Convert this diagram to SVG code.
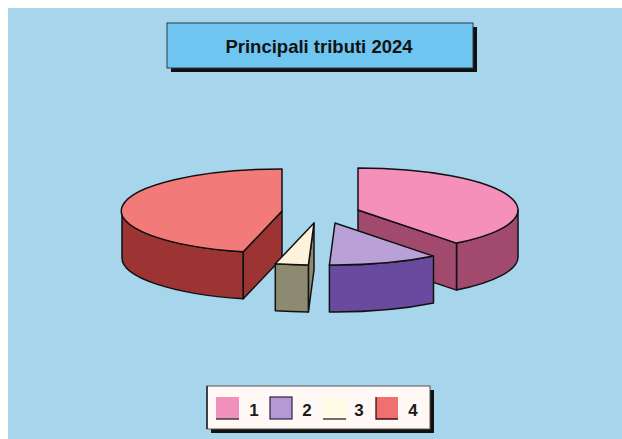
<svg xmlns="http://www.w3.org/2000/svg" width="622" height="439" viewBox="0 0 622 439">
<style>
.edge{stroke:#111;stroke-width:1.5;stroke-linejoin:round}
.t4{fill:#F27A78}.s4{fill:#9C3434}
.t1{fill:#F490BA}.s1{fill:#A24A6E}
.t2{fill:#B9A0D6}.s2{fill:#6A4A9E}
.t3{fill:#FFF2DC}.s3{fill:#8C8A70}
.lbl{font-family:"Liberation Sans",Arial,sans-serif;font-size:17px;font-weight:bold;fill:#1a1a1a;text-anchor:middle}
.title{font-family:"Liberation Sans",Arial,sans-serif;font-size:18.5px;font-weight:bold;fill:#111;text-anchor:middle}
</style>
<rect x="0" y="0" width="622" height="439" fill="#ffffff"/>
<rect x="8" y="8" width="614" height="431" fill="#A6D5EC"/>

<g id="title">
<rect x="171" y="27" width="306" height="45" fill="#111"/>
<rect x="167" y="23" width="306" height="45" fill="#6EC6F0" stroke="#2a3a48" stroke-width="1"/>
<text class="title" x="319" y="53">Principali tributi 2024</text>
</g>

<g id="connectors"></g>

<g id="slice4">
<path class="s4 edge" d="M243.3,251.8 A160,42 0 0 1 122,211 L122,258 A160,42 0 0 0 243.3,298.8 Z"/>
<path class="s4 edge" d="M282,211 L243.3,251.8 L243.3,298.8 L282,258 Z"/>
<path class="t4 edge" d="M282,211 L243.3,251.8 A160,42 0 0 1 282,169 Z"/>
</g>

<g id="slice1">
<path class="s1 edge" d="M518,210 A160,42 0 0 1 456.5,243.1 L456.5,290.1 A160,42 0 0 0 518,257 Z"/>
<path class="s1 edge" d="M358,210 L456.5,243.1 L456.5,290.1 L358,257 Z"/>
<path class="t1 edge" d="M358,210 L358,168 A160,42 0 0 1 456.5,243.1 Z"/>
</g>

<g id="slice3">
<path class="s3 edge" d="M314,223 L308.4,265 L308.4,312 L314,270 Z"/>
<path class="s3 edge" d="M308.4,265 A160,42 0 0 1 275.3,263.8 L275.3,310.8 A160,42 0 0 0 308.4,312 Z"/>
<path class="t3 edge" d="M314,223 L308.4,265 A160,42 0 0 1 275.3,263.8 Z"/>
</g>

<g id="slice2">
<path class="s2 edge" d="M433.5,256.1 A160,42 0 0 1 329.4,265 L329.4,312 A160,42 0 0 0 433.5,303.1 Z"/>
<path class="t2 edge" d="M335,223 L433.5,256.1 A160,42 0 0 1 329.4,265 Z"/>
</g>

<g id="legend">
<rect x="211" y="390" width="223" height="43" fill="#111"/>
<rect x="207" y="386" width="223" height="43" fill="#FFF8F4" stroke="#555" stroke-width="1"/>
<line x1="207" y1="386" x2="207" y2="429" stroke="#222" stroke-width="1.5"/>
<rect x="216" y="397" width="23" height="22" fill="#F290BC"/>
<line x1="216" y1="419" x2="239" y2="419" stroke="#222" stroke-width="1.3"/>
<text class="lbl" x="254" y="416">1</text>
<rect x="270" y="397" width="22" height="22" fill="#B49AD4" stroke="#2a2240" stroke-width="1.2"/>
<text class="lbl" x="307" y="416">2</text>
<rect x="323" y="397" width="23" height="22" fill="#FFFCE6"/>
<line x1="323" y1="419" x2="346" y2="419" stroke="#222" stroke-width="1.3"/>
<text class="lbl" x="359" y="416">3</text>
<rect x="376" y="397" width="22" height="22" fill="#F07070"/>
<path d="M376,397 L376,419 L398,419" fill="none" stroke="#3a1010" stroke-width="1.3"/>
<text class="lbl" x="413" y="416">4</text>
</g>
</svg>
